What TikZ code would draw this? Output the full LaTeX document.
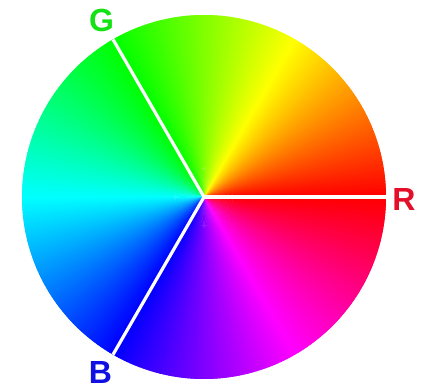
\documentclass[tikz,border=0pt]{standalone}
\usepackage{xcolor}
\usepackage{fontspec}
\setsansfont{Liberation Sans}
\usepackage{tikz}
\usetikzlibrary{positioning, calc}

\definecolor{labR}{RGB}{228,14,40}
\definecolor{labG}{RGB}{20,226,20}
\definecolor{labB}{RGB}{16,16,226}

\begin{document}
\begin{tikzpicture}[
    x=1pt, y=1pt,
    seam/.style={draw=white, line width=3.2pt},
    axislabel/.style={font=\sffamily\bfseries\fontsize{32}{34}\selectfont, inner sep=0pt}
]
    \useasboundingbox (0,0) rectangle (433,389);
    \coordinate (hub) at (204,192);

    % hue wheel
    \foreach \a in {0,...,359} {
        \definecolor{huecol}{Hsb}{\a,1,1}
        \fill[huecol] (hub) -- ++(\a-0.4:182) arc[start angle=\a-0.4, end angle=\a+1.4, radius=182] -- cycle;
    }

    \coordinate (rimR) at ($(hub)+(0:182)$);
    \coordinate (rimG) at ($(hub)+(120:182)$);
    \coordinate (rimB) at ($(hub)+(240:182)$);

    \draw [seam] (hub) -- (rimR);
    \draw [seam] (hub) -- (rimG);
    \draw [seam] (hub) -- (rimB);

    \node [axislabel, text=labR] (labelR) at (404,189.5) {R};
    \node [axislabel, text=labG] (labelG) at (101.5,369) {G};
    \node [axislabel, text=labB] (labelB) at (100.5,17) {B};
\end{tikzpicture}
\end{document}
